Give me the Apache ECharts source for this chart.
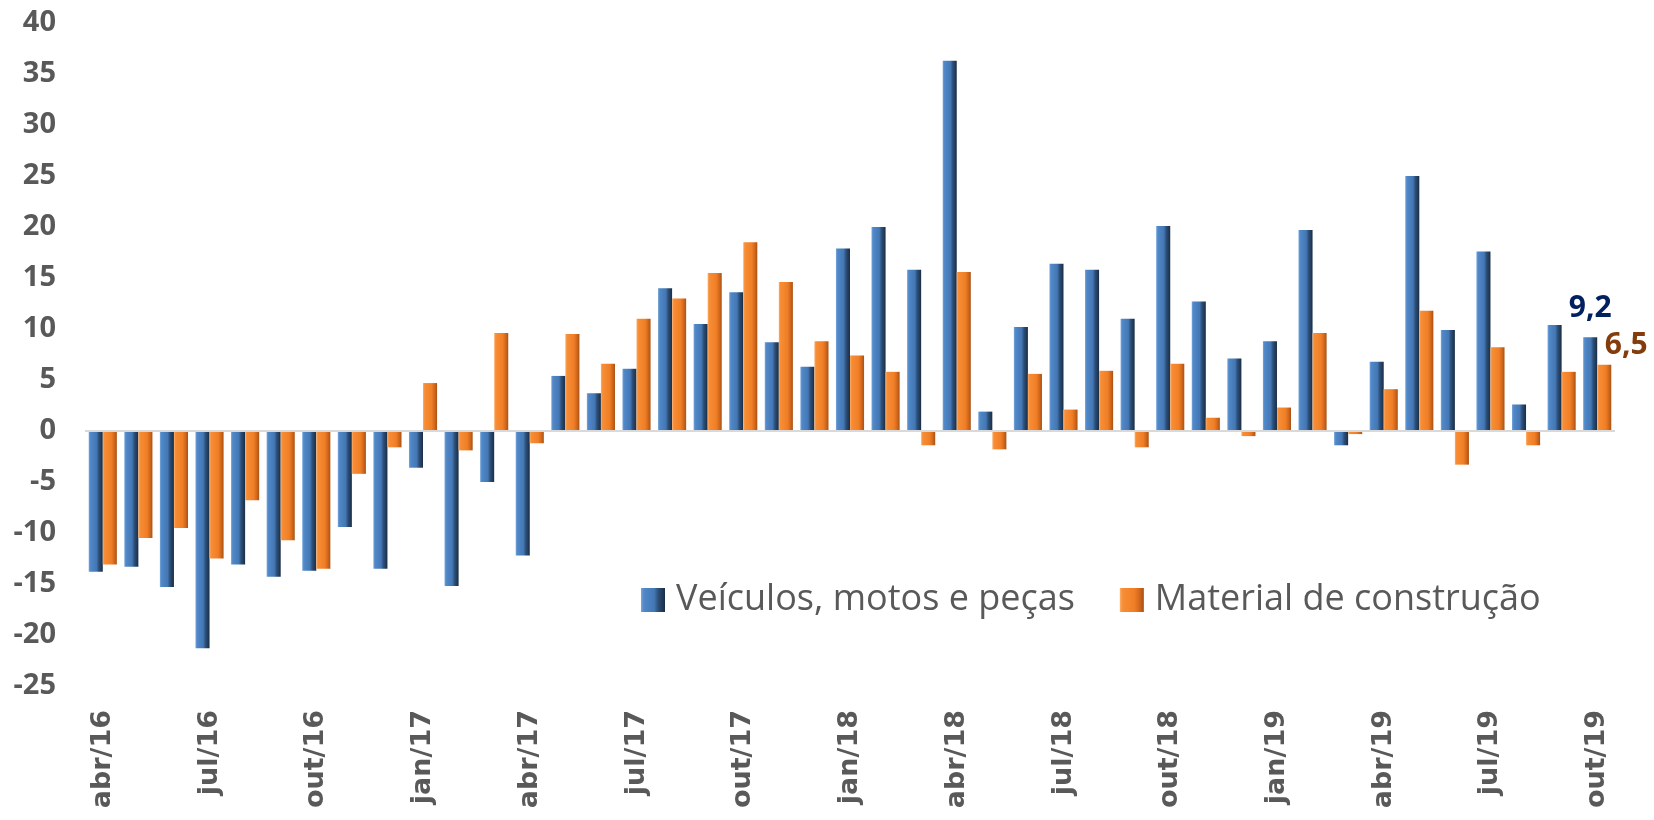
<!DOCTYPE html>
<html>
<head>
<meta charset="utf-8">
<script src="https://cdn.jsdelivr.net/npm/echarts@6/dist/echarts.min.js"></script>
<style>
  html, body { margin: 0; padding: 0; background: #fff; }
  #chart { width: 1654px; height: 820px; }
</style>
</head>
<body>
<div id="chart"></div>
<script>
// meses abr/16 .. out/19
const categories = [
  'abr/16', 'mai/16', 'jun/16', 'jul/16', 'ago/16', 'set/16', 'out/16', 'nov/16', 'dez/16',
  'jan/17', 'fev/17', 'mar/17', 'abr/17', 'mai/17', 'jun/17', 'jul/17', 'ago/17', 'set/17', 'out/17', 'nov/17', 'dez/17',
  'jan/18', 'fev/18', 'mar/18', 'abr/18', 'mai/18', 'jun/18', 'jul/18', 'ago/18', 'set/18', 'out/18', 'nov/18', 'dez/18',
  'jan/19', 'fev/19', 'mar/19', 'abr/19', 'mai/19', 'jun/19', 'jul/19', 'ago/19', 'set/19', 'out/19'
]
const veiculos = [
  -13.8, -13.3, -15.3, -21.3, -13.1, -14.3, -13.7, -9.4, -13.5,
  -3.6, -15.2, -5.0, -12.2, 5.4, 3.7, 6.1, 14.0, 10.5, 13.6, 8.7, 6.3,
  17.9, 20.0, 15.8, 36.3, 1.9, 10.2, 16.4, 15.8, 11.0, 20.1, 12.7, 7.1,
  8.8, 19.7, -1.4, 6.8, 25.0, 9.9, 17.6, 2.6, 10.4, 9.2
]
const material = [
  -13.1, -10.5, -9.5, -12.5, -6.8, -10.7, -13.5, -4.2, -1.6,
  4.7, -1.9, 9.6, -1.2, 9.5, 6.6, 11.0, 13.0, 15.5, 18.5, 14.6, 8.8,
  7.4, 5.8, -1.4, 15.6, -1.8, 5.6, 2.1, 5.9, -1.6, 6.6, 1.3, -0.5,
  2.3, 9.6, -0.3, 4.1, 11.8, -3.3, 8.2, -1.4, 5.8, 6.5
]
const yTicks = { min: -25, max: 40, step: 5 }

const chart = echarts.init(document.getElementById('chart'))

// bevel look: light left edge, dark right edge
const blueFill = new echarts.graphic.LinearGradient(0, 0, 1, 0, [
  { offset: 0, color: '#78a6dc' },
  { offset: 0.12, color: '#5088c8' },
  { offset: 0.55, color: '#4477b4' },
  { offset: 0.72, color: '#2c4f78' },
  { offset: 1, color: '#1a2d45' }
])
const orangeFill = new echarts.graphic.LinearGradient(0, 0, 1, 0, [
  { offset: 0, color: '#fbad6a' },
  { offset: 0.12, color: '#f78d35' },
  { offset: 0.6, color: '#f07f27' },
  { offset: 0.8, color: '#d66a1c' },
  { offset: 1, color: '#a85214' }
])

const lastIdx = categories.length - 1
const fmt = p => String(p.value).replace('.', ',')

function withLastLabel(values, label) {
  return values.map((v, i) => i === lastIdx ? { value: v, label: label } : v)
}

const option = {
  backgroundColor: '#fff',
  animation: false,
  grid: { left: 85, right: 39, top: 23, bottom: 134 },
  legend: {
    left: 636,
    top: 577,
    itemWidth: 24,
    itemHeight: 24,
    itemGap: 45,
    icon: 'rect',
    textStyle: {
      fontFamily: 'Open Sans',
      fontSize: 36,
      color: '#595959',
      padding: [0, 0, 0, 6]
    }
  },
  xAxis: {
    type: 'category',
    data: categories,
    axisLine: { show: false },
    axisTick: { show: false },
    axisLabel: {
      interval: 2,
      rotate: 90,
      margin: 24,
      fontFamily: 'DejaVu Sans',
      fontWeight: 'bold',
      fontSize: 27,
      color: '#595959'
    }
  },
  yAxis: {
    type: 'value',
    min: yTicks.min,
    max: yTicks.max,
    interval: yTicks.step,
    axisLine: { show: false },
    axisTick: { show: false },
    splitLine: { show: false },
    axisLabel: {
      margin: 29,
      fontFamily: 'Open Sans',
      fontWeight: 'bold',
      fontSize: 29,
      color: '#595959'
    }
  },
  series: [{
    name: 'Veículos, motos e peças',
    type: 'bar',
    barGap: '0%',
    barCategoryGap: '21%',
    itemStyle: { color: blueFill },
    data: withLastLabel(veiculos, {
      show: true,
      position: 'top',
      offset: [0, -9],
      formatter: fmt,
      fontFamily: 'Open Sans',
      fontWeight: 'bold',
      fontSize: 30,
      color: '#002060'
    }),
    // linha do zero
    markLine: {
      silent: true,
      symbol: 'none',
      label: { show: false },
      lineStyle: { color: '#d9d9d9', width: 2, type: 'solid' },
      data: [{ yAxis: 0 }]
    }
  }, {
    name: 'Material de construção',
    type: 'bar',
    barGap: '0%',
    barCategoryGap: '21%',
    itemStyle: { color: orangeFill },
    data: withLastLabel(material, {
      show: true,
      position: 'top',
      offset: [22, 1],
      formatter: fmt,
      fontFamily: 'Open Sans',
      fontWeight: 'bold',
      fontSize: 30,
      color: '#843c0c'
    })
  }]
}

chart.setOption(option)
</script>
</body>
</html>
